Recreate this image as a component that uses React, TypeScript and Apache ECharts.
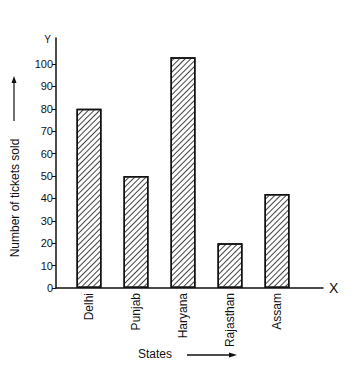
import React, { useEffect, useRef } from "react";
import * as echarts from "echarts";

const states = ["Delhi", "Punjab", "Haryana", "Rajasthan", "Assam"];
const ticketsSold = [80, 50, 103, 20, 42];
const yTicks = [0, 10, 20, 30, 40, 50, 60, 70, 80, 90, 100];
const yTitle = "Number of tickets sold";
const xTitle = "States";

const FONT = "'Liberation Sans', Arial, sans-serif";
const INK = "#111";

export default function App() {
  const ref = useRef<HTMLDivElement>(null);
  useEffect(() => {
    document.body.style.margin = "0";
    if (!ref.current) return;
    const chart = echarts.init(ref.current, undefined, { renderer: "svg" });
    const yMax = 111.6;
    chart.setOption({
      animation: false,
      backgroundColor: "#fff",
      textStyle: { fontFamily: FONT, color: INK },
      grid: [
        { left: 56, right: 39, top: 38, bottom: 77 },
        { left: 65.5, width: 235, top: 38, bottom: 77 },
      ],
      xAxis: [
        {
          type: "value",
          gridIndex: 0,
          min: 0,
          max: 1,
          axisLine: { show: true, lineStyle: { color: INK, width: 1.5 } },
          axisTick: { show: false },
          axisLabel: { show: false },
          splitLine: { show: false },
          name: "X",
          nameLocation: "end",
          nameGap: 6,
          nameTextStyle: { fontFamily: FONT, fontSize: 14, color: INK },
        },
        {
          type: "category",
          gridIndex: 1,
          data: states,
          axisLine: { show: false },
          axisTick: { show: false },
          axisLabel: {
            rotate: 90,
            margin: 5,
            fontFamily: FONT,
            fontSize: 12,
            color: INK,
          },
        },
      ],
      yAxis: [
        {
          type: "value",
          gridIndex: 0,
          min: 0,
          max: yMax,
          axisLine: { show: true, lineStyle: { color: INK, width: 1.5 } },
          axisTick: {
            show: true,
            length: 4,
            lineStyle: { color: INK },
            customValues: yTicks,
          },
          axisLabel: {
            margin: 3,
            fontFamily: FONT,
            fontSize: 11,
            color: INK,
            customValues: yTicks,
          },
          splitLine: { show: false },
          name: "Y",
          nameLocation: "end",
          nameGap: -6,
          nameTextStyle: {
            fontFamily: FONT,
            fontSize: 10,
            color: INK,
            align: "right",
            verticalAlign: "bottom",
            padding: [0, 5, 0, 0],
          },
        },
        {
          type: "value",
          gridIndex: 1,
          min: 0,
          max: yMax,
          show: false,
        },
      ],
      series: [
        {
          type: "bar",
          xAxisIndex: 1,
          yAxisIndex: 1,
          data: ticketsSold,
          barWidth: 25,
          itemStyle: {
            color: "#fff",
            borderColor: INK,
            borderWidth: 1.5,
            decal: {
              symbol: "rect",
              symbolSize: 1,
              color: "#444",
              backgroundColor: "#fff",
              dashArrayX: [1, 0],
              dashArrayY: [0.9, 2.4],
              rotation: -Math.PI / 4,
            },
          },
        },
      ],
      graphic: [
        {
          type: "text",
          x: 15,
          y: 198,
          rotation: Math.PI / 2,
          style: {
            text: yTitle,
            font: `12px ${FONT}`,
            fill: INK,
            align: "center",
            verticalAlign: "middle",
          },
        },
        {
          type: "line",
          shape: { x1: 14, y1: 121, x2: 14, y2: 80 },
          style: { stroke: INK, lineWidth: 1.2 },
        },
        {
          type: "polygon",
          shape: { points: [[14, 76], [11.5, 83], [16.5, 83]] },
          style: { fill: INK },
        },
        {
          type: "text",
          x: 155,
          y: 354,
          style: {
            text: xTitle,
            font: `12px ${FONT}`,
            fill: INK,
            align: "center",
            verticalAlign: "middle",
          },
        },
        {
          type: "line",
          shape: { x1: 187, y1: 355, x2: 232, y2: 355 },
          style: { stroke: INK, lineWidth: 1.5 },
        },
        {
          type: "polygon",
          shape: { points: [[237, 355], [229, 352.5], [229, 357.5]] },
          style: { fill: INK },
        },
      ],
    });
    return () => chart.dispose();
  }, []);
  return <div ref={ref} style={{ width: 362, height: 365 }} />;
}
